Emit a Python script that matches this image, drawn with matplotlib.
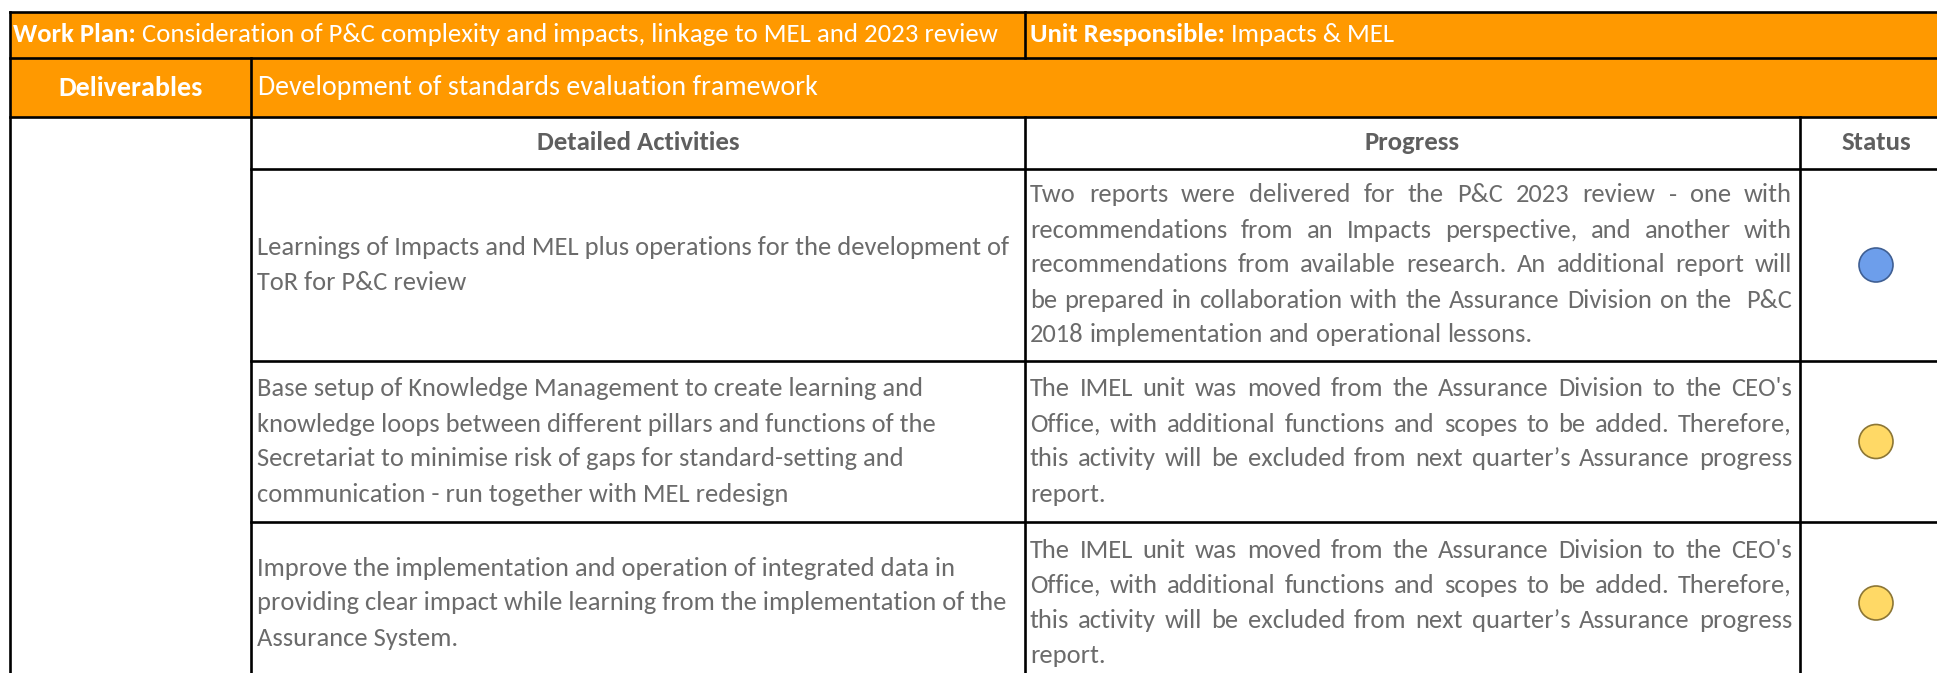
import matplotlib
matplotlib.use("Agg")
import matplotlib.pyplot as plt
from matplotlib import font_manager
from matplotlib.patches import Rectangle, Circle

# --- table content ---
work_plan = "Consideration of P&C complexity and impacts, linkage to MEL and 2023 review"
unit_responsible = "Impacts & MEL"
deliverable = "Development of standards evaluation framework"
headers = ["Detailed Activities", "Progress", "Status"]

activities = [
    ["Learnings of Impacts and MEL plus operations for the development of",
     "ToR for P&C review"],
    ["Base setup of Knowledge Management to create learning and",
     "knowledge loops between different pillars and functions of the",
     "Secretariat to minimise risk of gaps for standard-setting and",
     "communication - run together with MEL redesign"],
    ["Improve the implementation and operation of integrated data in",
     "providing clear impact while learning from the implementation of the",
     "Assurance System."],
]

progress = [
    ["Two reports were delivered for the P&C 2023 review - one with",
     "recommendations from an Impacts perspective, and another with",
     "recommendations from available research. An additional report will",
     "be prepared in collaboration with the Assurance Division on the  P&C",
     "2018 implementation and operational lessons."],
    ["The IMEL unit was moved from the Assurance Division to the CEO's",
     "Office, with additional functions and scopes to be added. Therefore,",
     "this activity will be excluded from next quarter\u2019s Assurance progress",
     "report."],
    ["The IMEL unit was moved from the Assurance Division to the CEO's",
     "Office, with additional functions and scopes to be added. Therefore,",
     "this activity will be excluded from next quarter\u2019s Assurance progress",
     "report."],
]

status = ["blue", "yellow", "yellow"]
status_colors = {"blue": ("#6d9eeb", "#3f5f93"), "yellow": ("#ffd966", "#8c7635")}

ORANGE = "#ff9900"
TEXT = "#6b6b6b"
HEAD = "#5f5f5f"

# pick a narrow-ish font if one is installed
names = {f.name for f in font_manager.fontManager.ttflist}
FONT = "Open Sans"
for cand in ["Carlito", "Liberation Sans Narrow", "Open Sans"]:
    if cand in names:
        FONT = cand
        break

W, H = 1937, 673
fig = plt.figure(figsize=(W / 100, H / 100), dpi=100)
ax = fig.add_axes([0, 0, 1, 1])
ax.set_xlim(0, W)
ax.set_ylim(H, 0)
ax.axis("off")
renderer = fig.canvas.get_renderer()


def width_of(s, size, weight="normal"):
    t = ax.text(0, 0, s, fontsize=size, family=FONT, weight=weight)
    w = t.get_window_extent(renderer).width if s else 0
    t.remove()
    return w


def fit(s, target, weight="normal"):
    return 10 * target / width_of(s, 10, weight)


# layout (pixels)
x0, x1, x2, x3, xr = 10, 251, 1025, 1800, W + 5
y0, y1, y2, y3 = 12, 58, 117, 169
row_bottoms = [361, 522, 684]
line_h = 35
lw = 1.9

# orange header band
ax.add_patch(Rectangle((x0, y0), xr - x0, y2 - y0, facecolor=ORANGE, edgecolor="none"))

# grid lines
for y in [y0, y1, y2]:
    ax.plot([x0, xr], [y, y], color="black", lw=lw, solid_capstyle="projecting")
for y in [y3] + row_bottoms[:-1]:
    ax.plot([x1, xr], [y, y], color="black", lw=lw, solid_capstyle="projecting")
ax.plot([x0, x0], [y0, H + 5], color="black", lw=lw)
ax.plot([x1, x1], [y1, H + 5], color="black", lw=lw)
ax.plot([x2, x2], [y0, y1], color="black", lw=lw)
ax.plot([x2, x2], [y2, H + 5], color="black", lw=lw)
ax.plot([x3, x3], [y2, H + 5], color="black", lw=lw)

# row 1: work plan / unit responsible
hsize = fit("Work Plan: " + work_plan, 982)
bold_part = "Work Plan:"
ax.text(13, (y0 + y1) / 2, bold_part, color="white", fontsize=hsize, family=FONT,
        weight="bold", va="center")
bw = width_of(bold_part + " ", hsize, "bold")
ax.text(13 + bw, (y0 + y1) / 2, work_plan, color="white", fontsize=hsize, family=FONT,
        va="center")
ax.text(1030, (y0 + y1) / 2, "Unit Responsible:", color="white", fontsize=hsize,
        family=FONT, weight="bold", va="center")
uw = width_of("Unit Responsible: ", hsize, "bold")
ax.text(1030 + uw, (y0 + y1) / 2, unit_responsible, color="white", fontsize=hsize,
        family=FONT, va="center")

# row 2: deliverables
dsize = fit(deliverable, 561)
ax.text((x0 + x1) / 2, (y1 + y2) / 2, "Deliverables", color="white", fontsize=dsize,
        family=FONT, weight="bold", ha="center", va="center")
ax.text(258, (y1 + y2) / 2, deliverable, color="white", fontsize=dsize, family=FONT,
        va="center")

# column headers
head_size = fit(headers[0], 203, "bold")
head_x = [(x1 + x2) / 2, (x2 + x3) / 2, 1876]
for h, hx in zip(headers, head_x):
    ax.text(hx, (y2 + y3) / 2, h, color=HEAD, fontsize=head_size, family=FONT,
            weight="bold", ha="center", va="center")

# body rows
body = fit(activities[0][0], 753)
space = width_of("a a", body) - width_of("aa", body)
tops = [y3] + row_bottoms[:-1]
for i in range(len(activities)):
    top, bot = tops[i], row_bottoms[i]
    mid = (top + bot) / 2

    acts = activities[i]
    start = mid - (len(acts) - 1) * line_h / 2
    for k, line in enumerate(acts):
        ax.text(257, start + k * line_h, line, color=TEXT, fontsize=body, family=FONT,
                va="center")

    # justified progress text
    prog = progress[i]
    start = mid - (len(prog) - 1) * line_h / 2
    left, right = 1030, 1792
    for k, line in enumerate(prog):
        words = line.split(" ")
        widths = [width_of(w, body) for w in words]
        last = k == len(prog) - 1
        gap = space if last else (right - left - sum(widths)) / (len(words) - 1)
        x = left
        for wd, ww in zip(words, widths):
            if wd:
                ax.text(x, start + k * line_h, wd, color=TEXT, fontsize=body,
                        family=FONT, va="center")
            x += ww + gap

    face, edge = status_colors[status[i]]
    ax.add_patch(Circle((1876, mid), 17, facecolor=face, edgecolor=edge, lw=1.2))

fig.savefig("out.png", dpi=100)
